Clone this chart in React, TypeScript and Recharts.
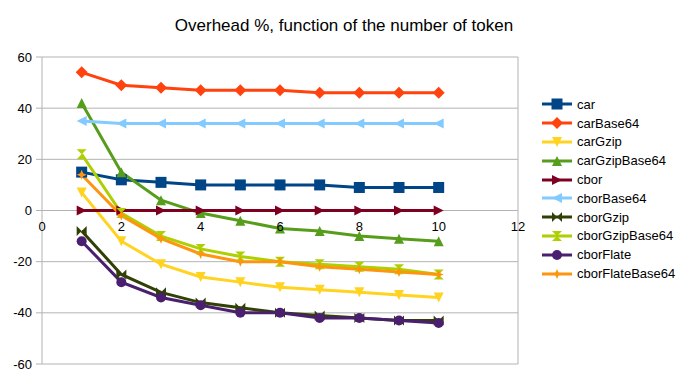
import React from 'react';
import { LineChart, Line, XAxis, YAxis, CartesianGrid, ReferenceLine, ReferenceDot } from 'recharts';

const title = 'Overhead %, function of the number of token';
const tokens = [1, 2, 3, 4, 5, 6, 7, 8, 9, 10];
const car = [15, 12, 11, 10, 10, 10, 10, 9, 9, 9];
const carBase64 = [54, 49, 48, 47, 47, 47, 46, 46, 46, 46];
const carGzip = [7, -12, -21, -26, -28, -30, -31, -32, -33, -34];
const carGzipBase64 = [42, 15, 4, -1, -4, -7, -8, -10, -11, -12];
const cbor = [0, 0, 0, 0, 0, 0, 0, 0, 0, 0];
const cborBase64 = [35, 34, 34, 34, 34, 34, 34, 34, 34, 34];
const cborGzip = [-8, -25, -32, -36, -38, -40, -41, -42, -43, -43];
const cborGzipBase64 = [22, -1, -10, -15, -18, -20, -21, -22, -23, -25];
const cborFlate = [-12, -28, -34, -37, -40, -40, -42, -42, -43, -44];
const cborFlateBase64 = [14, -2, -11, -17, -20, -20, -22, -23, -24, -25];
const xTicks = [0, 2, 4, 6, 8, 10, 12];
const yTicks = [-60, -40, -20, 0, 20, 40, 60];

const seriesNames = ['car', 'carBase64', 'carGzip', 'carGzipBase64', 'cbor', 'cborBase64', 'cborGzip', 'cborGzipBase64', 'cborFlate', 'cborFlateBase64'];
const seriesValues = [car, carBase64, carGzip, carGzipBase64, cbor, cborBase64, cborGzip, cborGzipBase64, cborFlate, cborFlateBase64];
const seriesColors = ['#004586', '#ff420e', '#ffd320', '#579d1c', '#7e0021', '#83caff', '#314004', '#aecf00', '#4b1f6f', '#ff950e'];
const seriesShapes = ['square', 'diamond', 'down', 'up', 'right', 'left', 'bowtie', 'sandglass', 'circle', 'star'];

const FONT = '"Liberation Sans", Arial, sans-serif';

const data = tokens.map((t, i) => {
  const row: Record<string, number> = { t };
  seriesNames.forEach((n, k) => { row[n] = seriesValues[k][i]; });
  return row;
});

function Marker({ shape, cx, cy, color }: { shape: string; cx: number; cy: number; color: string }) {
  const s = 5;
  const poly = (pts: number[][]) => (
    <polygon points={pts.map((p) => `${cx + p[0]},${cy + p[1]}`).join(' ')} fill={color} stroke="none" />
  );
  switch (shape) {
    case 'square':
      return <rect x={cx - s - 0.5} y={cy - s - 0.5} width={2 * s + 1} height={2 * s + 1} fill={color} />;
    case 'diamond':
      return poly([[0, -s - 1], [s + 1, 0], [0, s + 1], [-s - 1, 0]]);
    case 'down':
      return poly([[-s, -s], [s, -s], [0, s]]);
    case 'up':
      return poly([[-s, s], [s, s], [0, -s]]);
    case 'right':
      return poly([[-s, -s], [s, 0], [-s, s]]);
    case 'left':
      return poly([[s, -s], [-s, 0], [s, s]]);
    case 'bowtie':
      return poly([[-s, -s], [s, s], [s, -s], [-s, s]]);
    case 'sandglass':
      return poly([[-s, -s], [s, -s], [-s, s], [s, s]]);
    case 'circle':
      return <circle cx={cx} cy={cy} r={s} fill={color} />;
    case 'star':
      return poly([[0, -s], [1.5, -1.5], [s, 0], [1.5, 1.5], [0, s], [-1.5, 1.5], [-s, 0], [-1.5, -1.5]]);
    default:
      return null;
  }
}

function LegendBox() {
  return (
    <div style={{ position: 'absolute', left: 541, top: 95, fontFamily: FONT, fontSize: 13, color: '#000' }}>
      {seriesNames.map((n, k) => (
        <div key={n} style={{ display: 'flex', alignItems: 'center', height: 18.8 }}>
          <svg width={32} height={14} style={{ display: 'block' }}>
            <line x1={1} y1={7} x2={31} y2={7} stroke={seriesColors[k]} strokeWidth={3} />
            <Marker shape={seriesShapes[k]} cx={16} cy={7} color={seriesColors[k]} />
          </svg>
          <span style={{ marginLeft: 4, whiteSpace: 'nowrap' }}>{n}</span>
        </div>
      ))}
    </div>
  );
}

export default function App() {
  return (
    <div style={{ position: 'absolute', left: 0, top: 0, width: 688, height: 380, background: '#fff', fontFamily: FONT }}>
      <div style={{ position: 'absolute', left: 0, top: 17, width: 688, textAlign: 'center', fontSize: 17, lineHeight: '17px', color: '#000' }}>
        {title}
      </div>
      <LineChart width={688} height={380} data={data} margin={{ top: 57, right: 170, bottom: 16, left: 0 }}>
        <CartesianGrid vertical={false} stroke="#b3b3b3" strokeDasharray="" />
        <XAxis dataKey="t" type="number" domain={[0, 12]} ticks={xTicks} hide />
        <YAxis
          type="number"
          domain={[-60, 60]}
          ticks={yTicks}
          width={42}
          interval={0}
          axisLine={{ stroke: '#b3b3b3' }}
          tickLine={{ stroke: '#b3b3b3' }}
          tickSize={6}
          tickMargin={4}
          tick={{ fill: '#000', fontSize: 13, fontFamily: FONT }}
        />
        <ReferenceLine x={12} stroke="#b3b3b3" strokeWidth={1} />
        <ReferenceLine y={0} stroke="#b3b3b3" strokeWidth={1} />
        {xTicks.map((t) => (
          <ReferenceDot
            key={'xt' + t}
            x={t}
            y={0}
            r={0}
            fill="none"
            stroke="none"
            label={{ value: String(t), position: 'bottom', offset: 11, fill: '#000', fontSize: 13, fontFamily: FONT }}
          />
        ))}
        {seriesNames.map((n, k) => (
          <Line
            key={n}
            type="linear"
            dataKey={n}
            name={n}
            stroke={seriesColors[k]}
            strokeWidth={3}
            isAnimationActive={false}
            activeDot={false}
            dot={(p: any) => (
              <Marker key={n + p.index} shape={seriesShapes[k]} cx={p.cx} cy={p.cy} color={seriesColors[k]} />
            )}
          />
        ))}
      </LineChart>
      <LegendBox />
    </div>
  );
}
